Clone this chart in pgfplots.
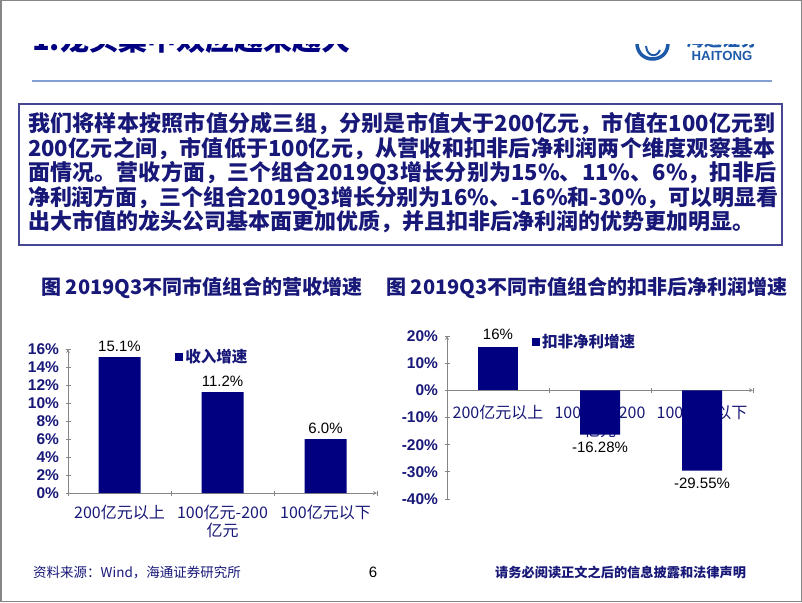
\documentclass[border=0pt]{standalone}
\usepackage{pgfplots}
\pgfplotsset{compat=1.18}
\usepackage{fontspec}
\setmainfont{Liberation Sans}
\newfontfamily\cjk{Noto Sans CJK SC}

\definecolor{nv}{RGB}{0,0,128}
\definecolor{tx}{RGB}{24,24,120}
\definecolor{axg}{RGB}{134,134,134}
\definecolor{lb}{RGB}{30,90,170}
\definecolor{rule}{RGB}{130,160,210}
\newcommand{\fs}[1]{\fontsize{#1}{#1}\selectfont}
% one justified line of the summary box
\newcommand{\jline}[1]{{\XeTeXlinebreaklocale "zh"\XeTeXlinebreakskip=0pt plus 4pt minus 0.3pt\parfillskip=0pt #1\par}}

\pgfplotsset{
  slide/.style={
    scale only axis, set layers,
    ybar, xmin=-0.5, xmax=2.5,
    axis line style={draw=axg, line width=0.8pt, -},
    tick align=outside, major tick length=5pt,
    tick style={draw=axg, line width=0.8pt},
    xtick={-0.5,0.5,1.5,2.5}, xticklabels={},
    extra x ticks={0,1,2},
    extra x tick labels={{200亿元以上},{100亿元-200\\亿元},{100亿元以下}},
    extra x tick style={tick style={draw=none},
      tick label style={font=\cjk\fontsize{16}{18}\selectfont, text=tx, align=center}},
    yticklabel style={font=\bfseries\fs{15.5}, text=tx, xshift=-3pt},
    point meta=explicit symbolic,
    nodes near coords,
    every node near coord/.append style={font=\fs{15}, text=black},
    legend style={draw=none, fill=none, anchor=west, font=\cjk\bfseries\fs{15.5}, text=tx},
    legend image code/.code={\fill[nv] (0pt,-3.5pt) rectangle (8pt,4.5pt);},
  },
}

\begin{document}
\begin{tikzpicture}
\begin{scope}[x=1pt,y=-1pt]
  % title band, cut at the top as in the slide
  \begin{scope}
    \clip (20,44) rectangle (790,75);
    \node[anchor=base west, inner sep=0pt, text=nv, font=\cjk\bfseries\fs{29}] at (32,51) {1.龙头集中效应越来越大};
    \draw[lb, line width=3.5pt] (637,44) .. controls (638,64) and (667,64) .. (668,44);
    \draw[lb, line width=2pt] (646,46) .. controls (647,57) and (657,58) .. (660,50);
    \node[anchor=base, inner sep=0pt, text=lb, font=\cjk\bfseries\fs{18}] at (722,46) {海通证券};
    \node[inner sep=0pt, text=lb, font=\bfseries\fs{13.2}] at (722,56) {HAITONG};
  \end{scope}
  \fill[white] (3,3) rectangle (799,44);
  \draw[axg, line width=1.5pt] (0.75,0.75) rectangle (801.25,601.25);
  \draw[rule, line width=2pt] (32,81) -- (772,81);
  % summary box
  \draw[tx!80, line width=1.2pt] (19,104) rectangle (782,245);
  \begin{scope}[every node/.style={anchor=base west, inner sep=0pt, text width=750pt, text=tx, font=\cjk\bfseries\fs{22}}]
    \node at (28,131.5) {\jline{我们将样本按照市值分成三组，分别是市值大于200亿元，市值在100亿元到}};
    \node at (28,156) {\jline{200亿元之间，市值低于100亿元，从营收和扣非后净利润两个维度观察基本}};
    \node at (28,180.5) {\jline{面情况。营收方面，三个组合2019Q3增长分别为15\%、11\%、6\%，扣非后}};
    \node at (28,205) {\jline{净利润方面，三个组合2019Q3增长分别为16\%、-16\%和-30\%，可以明显看}};
    \node at (28,229.5) {出大市值的龙头公司基本面更加优质，并且扣非后净利润的优势更加明显。};
  \end{scope}
  % chart titles
  \node[text=tx, font=\cjk\bfseries\fs{20}] at (202,288) {图 2019Q3不同市值组合的营收增速};
  \node[text=tx, font=\cjk\bfseries\fs{20}] at (587,288) {图 2019Q3不同市值组合的扣非后净利润增速};
  % footer
  \node[anchor=west, inner sep=0pt, text=tx, font=\cjk\fs{13.5}] at (33,572) {资料来源：Wind，海通证券研究所};
  \node[font=\fs{15}] at (373,572) {6};
  \node[anchor=west, inner sep=0pt, text=tx, font=\cjk\bfseries\fs{13.2}] at (495,572) {请务必阅读正文之后的信息披露和法律声明};
\end{scope}

% revenue growth
\begin{axis}[slide,
  at={(68pt,-493pt)}, anchor=south west,
  width=309pt, height=144pt, bar width=42pt,
  ymin=0, ymax=16,
  axis lines=left,
  ytick={0,2,...,16},
  yticklabels={0\%,2\%,4\%,6\%,8\%,10\%,12\%,14\%,16\%},
  extra x tick style={tick label style={yshift=-6pt}},
  legend style={at={(0.337,0.944)}},
]
\addplot[fill=nv, draw=none, every node near coord/.append style={yshift=2pt}]
  coordinates {(0,15.1) [15.1\%] (1,11.2) [11.2\%] (2,6.0) [6.0\%]};
\addlegendentry{收入增速}
\end{axis}

% net profit growth
\begin{axis}[slide,
  at={(447pt,-499pt)}, anchor=south west,
  width=306pt, height=163pt, bar width=40pt,
  ymin=-40, ymax=20,
  axis x line=middle, axis y line=left,
  ytick={-40,-30,...,20},
  yticklabels={-40\%,-30\%,-20\%,-10\%,0\%,10\%,20\%},
  extra x tick style={tick label style={yshift=-9pt}},
  legend style={at={(0.268,0.963)}},
]
\addplot[fill=nv, draw=none, bar shift=0pt, every node near coord/.append style={anchor=south, yshift=4pt}]
  coordinates {(0,16) [16\%]};
\addlegendentry{扣非净利增速}
\addplot[fill=nv, draw=none, bar shift=0pt, forget plot, every node near coord/.append style={anchor=north, yshift=-4pt}]
  coordinates {(1,-16.28) [-16.28\%] (2,-29.55) [-29.55\%]};
\end{axis}

\pgfresetboundingbox
\path[use as bounding box] (0,0) rectangle (802pt,-602pt);
\end{tikzpicture}
\end{document}
